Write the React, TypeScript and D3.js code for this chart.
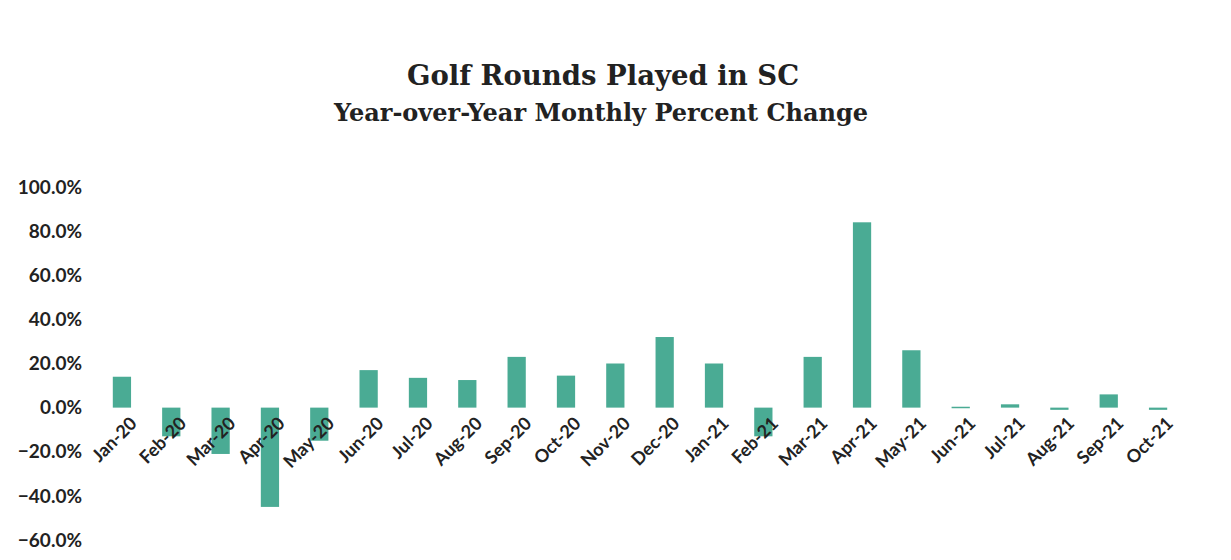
import React from "react";
import * as d3 from "d3";

const months = ["Jan-20","Feb-20","Mar-20","Apr-20","May-20","Jun-20","Jul-20","Aug-20","Sep-20","Oct-20","Nov-20","Dec-20","Jan-21","Feb-21","Mar-21","Apr-21","May-21","Jun-21","Jul-21","Aug-21","Sep-21","Oct-21"];
const changes = [14, -13, -21, -45, -15, 17, 13.5, 12.5, 23, 14.5, 20, 32, 20, -13, 23, 84, 26, 0.4, 1.5, -1, 6, -1];
const yTicks = [100, 80, 60, 40, 20, 0, -20, -40, -60];
const title = "Golf Rounds Played in SC";
const subtitle = "Year-over-Year Monthly Percent Change";

const W = 1231, H = 560;
const plotLeft = 98, plotRight = 1182;
const BAR = "#4aab94";

export default function App() {
  const x = d3.scaleBand<string>().domain(months).range([plotLeft, plotRight]).paddingInner(0.63).paddingOuter(0.3);
  const y = d3.scaleLinear().domain([-60, 100]).range([540, 187]);
  const y0 = y(0);
  return (
    <svg width={W} height={H} style={{ position: "absolute", left: 0, top: 0, background: "#fff" }}>
      <text x={603} y={85} textAnchor="middle" fontFamily="'DejaVu Serif', 'Liberation Serif', serif" fontWeight="bold" fontSize={27.5} fill="#222">{title}</text>
      <text x={601} y={121} textAnchor="middle" fontFamily="'DejaVu Serif', 'Liberation Serif', serif" fontWeight="bold" fontSize={24} fill="#222">{subtitle}</text>
      {yTicks.map(t => (
        <text key={t} x={82} y={y(t)} dy="0.35em" textAnchor="end" fontFamily="Lato, 'Open Sans', sans-serif" fontWeight="bold" fontSize={19} fill="#222">{d3.format(".1f")(t) + "%"}</text>
      ))}
      {months.map((m, i) => {
        const v = changes[i];
        const top = Math.min(y(v), y0);
        const h = Math.max(Math.abs(y(v) - y0), 1.5);
        return <rect key={m} x={x(m)} y={top} width={x.bandwidth()} height={h} fill={BAR} />;
      })}
      {months.map(m => {
        const cx = (x(m) as number) + x.bandwidth() / 2 + 16;
        const cy = y0 + 17;
        return (
          <text key={m + "l"} x={cx} y={cy} textAnchor="end" transform={`rotate(-45 ${cx} ${cy})`} fontFamily="Lato, 'Open Sans', sans-serif" fontWeight="bold" fontSize={18} fill="#222">{m}</text>
        );
      })}
    </svg>
  );
}
